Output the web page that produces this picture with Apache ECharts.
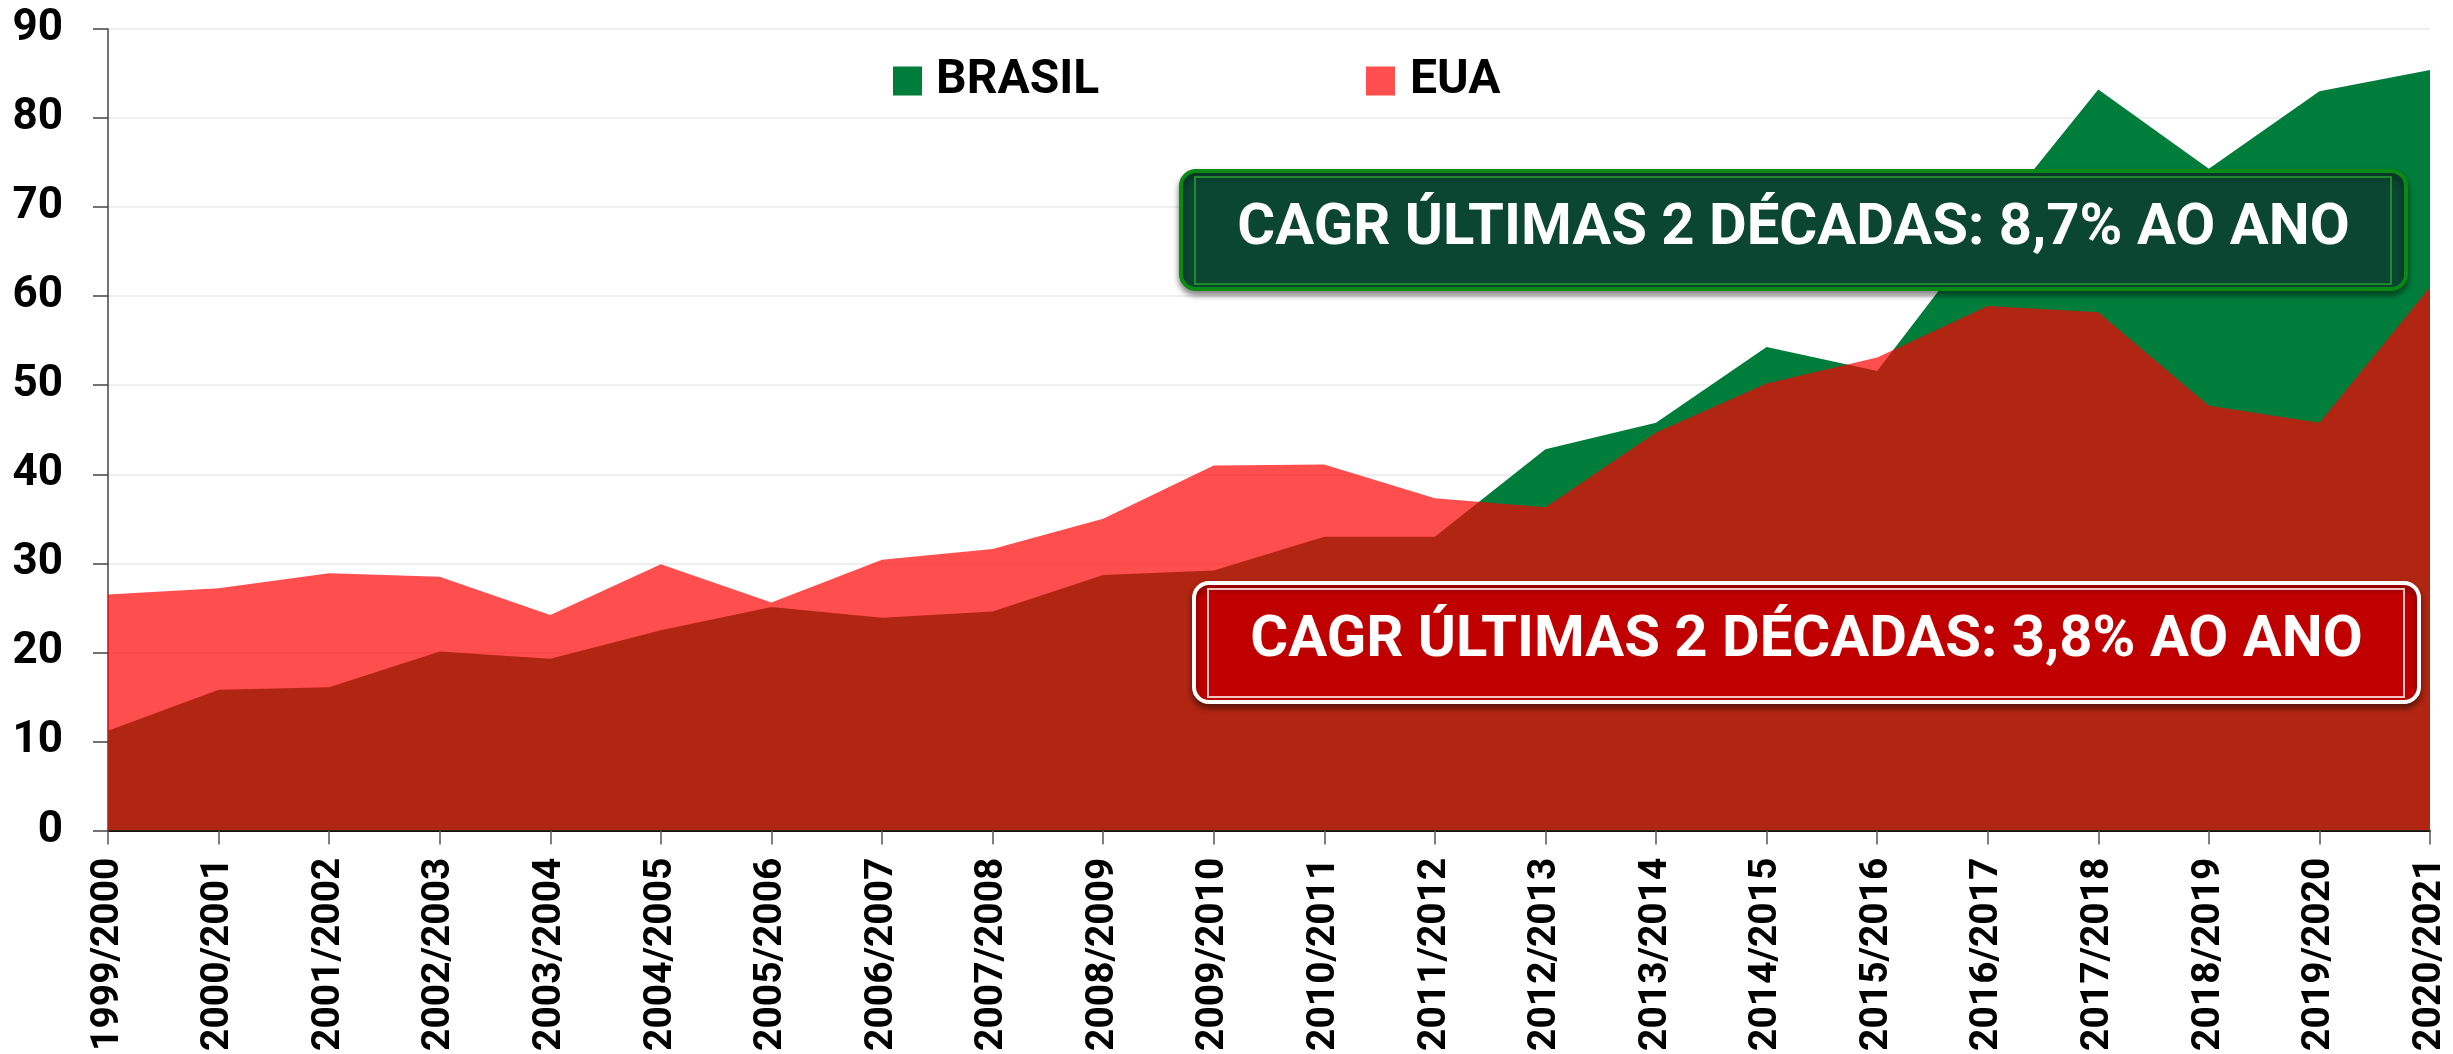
<!DOCTYPE html>
<html>
<head>
<meta charset="utf-8">
<script src="https://cdn.jsdelivr.net/npm/echarts@6/dist/echarts.min.js"></script>
<style>
  html, body { margin: 0; padding: 0; background: #fff; }
  #chart { width: 2453px; height: 1054px; }
</style>
</head>
<body>
<div id="chart"></div>
<script>
// safras (eixo x)
var categories = ['1999/2000', '2000/2001', '2001/2002', '2002/2003', '2003/2004', '2004/2005',
  '2005/2006', '2006/2007', '2007/2008', '2008/2009', '2009/2010', '2010/2011', '2011/2012',
  '2012/2013', '2013/2014', '2014/2015', '2015/2016', '2016/2017', '2017/2018', '2018/2019',
  '2019/2020', '2020/2021'];
// valores
var brasil = [11.2, 15.8, 16.1, 20.1, 19.3, 22.5, 25.1, 23.9, 24.6, 28.7, 29.2, 33.0, 33.0,
  42.8, 45.8, 54.3, 51.6, 67.8, 83.2, 74.3, 83.0, 85.4];
var eua = [26.5, 27.2, 28.9, 28.5, 24.2, 29.9, 25.6, 30.4, 31.6, 35.0, 41.0, 41.1, 37.3,
  36.3, 44.7, 50.2, 53.1, 58.9, 58.2, 47.7, 45.8, 61.0];
var yTicks = { min: 0, max: 90, interval: 10 };
var cagrBrasil = 'CAGR ÚLTIMAS 2 DÉCADAS: 8,7% AO ANO';
var cagrEua = 'CAGR ÚLTIMAS 2 DÉCADAS: 3,8% AO ANO';

var VERDE = '#017D3B';
var VERMELHO = '#FF4E4E';

var myChart = echarts.init(document.getElementById('chart'));

// caixa arredondada com texto (CAGR)
function caixa(x, y, w, h, fill, borda, linhaInterna, texto) {
  return [
    {
      type: 'rect',
      z: 100,
      shape: { x: x, y: y, width: w, height: h, r: 15 },
      style: {
        fill: fill, stroke: borda, lineWidth: 4,
        shadowBlur: 6, shadowOffsetY: 4, shadowColor: 'rgba(0,0,0,0.45)'
      }
    },
    {
      type: 'rect',
      z: 101,
      shape: { x: x + 14, y: y + 6, width: w - 29, height: h - 11 },
      style: { fill: 'none', stroke: linhaInterna, lineWidth: 2 }
    },
    {
      type: 'text',
      z: 102,
      x: x + w / 2,
      y: y + h / 2 - 1,
      style: {
        text: texto,
        fill: '#ffffff',
        font: 'bold 58px Roboto',
        textAlign: 'center',
        textVerticalAlign: 'middle'
      }
    }
  ];
}

var option = {
  animation: false,
  backgroundColor: '#ffffff',
  grid: { left: 108, right: 23, top: 29, bottom: 219 },
  legend: [
    {
      left: 888, top: 52,
      icon: 'rect', itemWidth: 29, itemHeight: 29,
      data: [{ name: 'BRASIL', itemStyle: { color: VERDE } }],
      textStyle: { fontFamily: 'Roboto', fontWeight: 'bold', fontSize: 48, color: '#000', padding: [0, 0, 0, 9] }
    },
    {
      left: 1361, top: 52,
      icon: 'rect', itemWidth: 29, itemHeight: 29,
      data: [{ name: 'EUA', itemStyle: { color: VERMELHO } }],
      textStyle: { fontFamily: 'Roboto', fontWeight: 'bold', fontSize: 48, color: '#000', padding: [0, 0, 0, 10] }
    }
  ],
  xAxis: {
    type: 'category',
    boundaryGap: false,
    data: categories,
    axisLine: { lineStyle: { color: '#111', width: 2 } },
    axisTick: { length: 14, alignWithLabel: true, lineStyle: { color: '#555', width: 1.5 } },
    axisLabel: {
      interval: 0,
      rotate: 90,
      margin: 27,
      fontFamily: 'Roboto',
      fontWeight: 'bold',
      fontSize: 39,
      color: '#000'
    },
    splitLine: { show: false }
  },
  yAxis: {
    type: 'value',
    min: yTicks.min,
    max: yTicks.max,
    interval: yTicks.interval,
    axisLine: { show: true, lineStyle: { color: '#444', width: 1.5 } },
    axisTick: { show: true, length: 15, lineStyle: { color: '#444', width: 1.5 } },
    axisLabel: {
      margin: 45,
      fontFamily: 'Roboto',
      fontWeight: 'bold',
      fontSize: 44,
      color: '#000'
    },
    splitLine: { lineStyle: { color: '#EFEFEF', width: 2 } }
  },
  series: [
    {
      name: 'BRASIL',
      type: 'line',
      data: brasil,
      symbol: 'none',
      lineStyle: { width: 0 },
      itemStyle: { color: VERDE },
      areaStyle: { color: VERDE, opacity: 1 },
      z: 2
    },
    {
      name: 'EUA',
      type: 'line',
      data: eua,
      symbol: 'none',
      lineStyle: { width: 0 },
      itemStyle: { color: VERMELHO },
      areaStyle: { color: '#FF0000', opacity: 0.695 },
      z: 3
    }
  ],
  graphic: caixa(1181, 171, 1225, 118, '#0B4633', '#0A8A14', '#1F8A2A', cagrBrasil)
    .concat(caixa(1194, 583, 1225, 119, '#C00000', '#FFFFFF', '#F4C4C4', cagrEua))
};

myChart.setOption(option);
</script>
</body>
</html>
